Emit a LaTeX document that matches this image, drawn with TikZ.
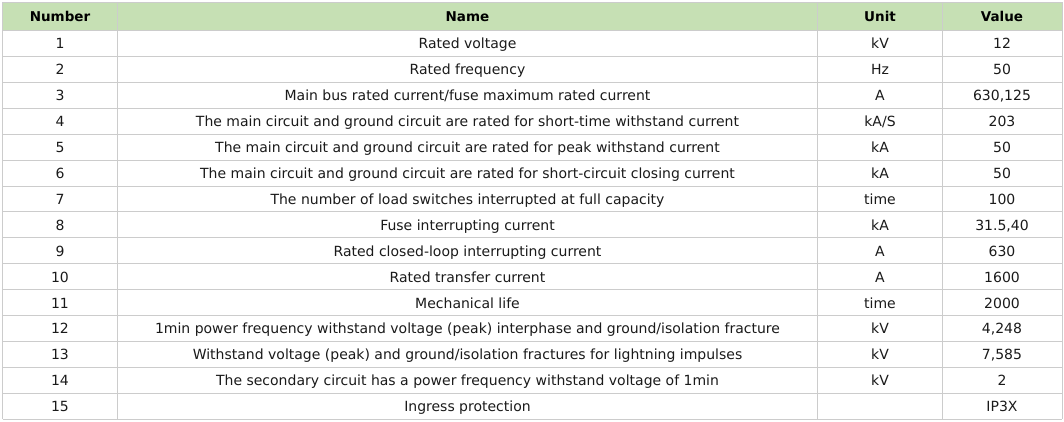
\documentclass[tikz,border=0pt]{standalone}
\usepackage{fontspec}
\setmainfont{DejaVu Sans}
\definecolor{hdrgreen}{HTML}{C6E0B4}
\definecolor{gridgray}{HTML}{CCCCCC}
\definecolor{txt}{HTML}{1A1A1A}
\newcommand\trow[4]{%
  \pgfmathsetmacro\yc{30.5+(#1-0.5)*25.92+5.4}
  \node[cell] (num#1) at (60,\yc) {#1};
  \node[cell] (name#1) at (467.5,\yc) {#2};
  \node[cell] (unit#1) at (880,\yc) {#3};
  \node[cell] (val#1) at (1002,\yc) {#4};
}
\begin{document}
\begin{tikzpicture}[x=1pt,y=-1pt,
  cell/.style={anchor=base,inner sep=0pt,font=\fontsize{14}{16}\selectfont,text=txt},
  hcell/.style={cell,font=\fontsize{13.5}{16}\selectfont\bfseries,text=black},
  gridline/.style={draw=gridgray,line width=1pt}]
\useasboundingbox (0,0) rectangle (1064,422);
\fill[hdrgreen] (2.5,2.5) rectangle (1062,30.5);
% horizontal lines
\foreach \k in {0,...,15} {
  \draw[gridline] (2.5,30.5+\k*25.92) -- (1062,30.5+\k*25.92);
}
\draw[gridline] (2.5,2.5) -- (1062,2.5);
% vertical lines
\foreach \xx in {2.5,117.5,817.5,942.5,1062} {
  \draw[gridline] (\xx,2.5) -- (\xx,419.3);
}
\node[hcell] (hnum) at (60,21.5) {Number};
\node[hcell] (hname) at (467.5,21.5) {Name};
\node[hcell] (hunit) at (880,21.5) {Unit};
\node[hcell] (hval) at (1002,21.5) {Value};
\trow{1}{Rated voltage}{kV}{12}
\trow{2}{Rated frequency}{Hz}{50}
\trow{3}{Main bus rated current/fuse maximum rated current}{A}{630,125}
\trow{4}{The main circuit and ground circuit are rated for short-time withstand current}{kA/S}{203}
\trow{5}{The main circuit and ground circuit are rated for peak withstand current}{kA}{50}
\trow{6}{The main circuit and ground circuit are rated for short-circuit closing current}{kA}{50}
\trow{7}{The number of load switches interrupted at full capacity}{time}{100}
\trow{8}{Fuse interrupting current}{kA}{31.5,40}
\trow{9}{Rated closed-loop interrupting current}{A}{630}
\trow{10}{Rated transfer current}{A}{1600}
\trow{11}{Mechanical life}{time}{2000}
\trow{12}{1min power frequency withstand voltage (peak) interphase and ground/isolation fracture}{kV}{4,248}
\trow{13}{Withstand voltage (peak) and ground/isolation fractures for lightning impulses}{kV}{7,585}
\trow{14}{The secondary circuit has a power frequency withstand voltage of 1min}{kV}{2}
\trow{15}{Ingress protection}{}{IP3X}
\end{tikzpicture}
\end{document}
